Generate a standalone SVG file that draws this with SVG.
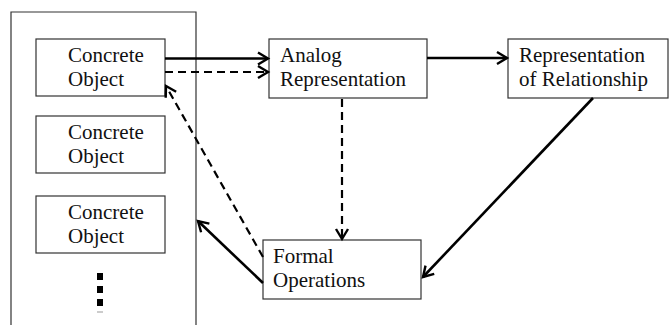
<svg xmlns="http://www.w3.org/2000/svg" width="669" height="325" viewBox="0 0 669 325">
<style>
.box{fill:#fff;stroke:#333;stroke-width:1.2}
.t{font-family:"Liberation Serif","Times New Roman",serif;font-size:21px;fill:#111}
.s{fill:none;stroke:#000;stroke-width:2.6}
.d{fill:none;stroke:#000;stroke-width:2.2;stroke-dasharray:8 5}
</style>
<defs>
<marker id="ah" markerUnits="userSpaceOnUse" markerWidth="14" markerHeight="16" refX="11" refY="7" orient="auto" viewBox="0 0 14 14">
<path d="M1,1 L11,7 L1,13" fill="none" stroke="#000" stroke-width="2.4"/>
</marker>
</defs>
<rect width="669" height="325" fill="#fff"/>
<g id="container">
<path d="M11,330 L11,12 L196,12 L196,330" fill="none" stroke="#333" stroke-width="1.2"/>
</g>
<g id="co1">
<rect class="box" x="36" y="39" width="129" height="57"/>
<text class="t" x="68" y="62">Concrete</text>
<text class="t" x="68" y="86">Object</text>
</g>
<g id="co2">
<rect class="box" x="36" y="116" width="129" height="57"/>
<text class="t" x="68" y="139">Concrete</text>
<text class="t" x="68" y="163">Object</text>
</g>
<g id="co3">
<rect class="box" x="36" y="196" width="129" height="57"/>
<text class="t" x="68" y="219">Concrete</text>
<text class="t" x="68" y="243">Object</text>
</g>
<g id="ellipsis">
<rect x="97" y="273" width="6" height="7" fill="#000"/>
<rect x="97" y="286" width="6" height="7" fill="#000"/>
<rect x="97" y="299" width="6" height="7" fill="#000"/>
<rect x="97" y="311" width="6" height="2" fill="#ccc"/>
</g>
<g id="analog">
<rect class="box" x="269" y="39" width="158" height="59"/>
<text class="t" x="280" y="62">Analog</text>
<text class="t" x="280" y="86">Representation</text>
</g>
<g id="relationship">
<rect class="box" x="508" y="39" width="160" height="59"/>
<text class="t" x="519" y="62">Representation</text>
<text class="t" x="519" y="86">of Relationship</text>
</g>
<g id="formal">
<rect class="box" x="263" y="240" width="158" height="59"/>
<text class="t" x="273" y="263">Formal</text>
<text class="t" x="273" y="287">Operations</text>
</g>
<g id="connectors">
<line class="s" x1="165" y1="58.5" x2="268" y2="58.5" marker-end="url(#ah)"/>
<line class="d" x1="165" y1="72" x2="268" y2="72" marker-end="url(#ah)"/>
<line class="s" x1="427" y1="58" x2="507" y2="58" marker-end="url(#ah)"/>
<line class="d" x1="342" y1="99" x2="342" y2="239" marker-end="url(#ah)"/>
<line class="s" x1="593" y1="98" x2="423" y2="277" marker-end="url(#ah)"/>
<line class="s" x1="263" y1="283" x2="198" y2="221" marker-end="url(#ah)"/>
<line class="d" x1="263" y1="257" x2="166" y2="86" marker-end="url(#ah)"/>
</g>
</svg>
